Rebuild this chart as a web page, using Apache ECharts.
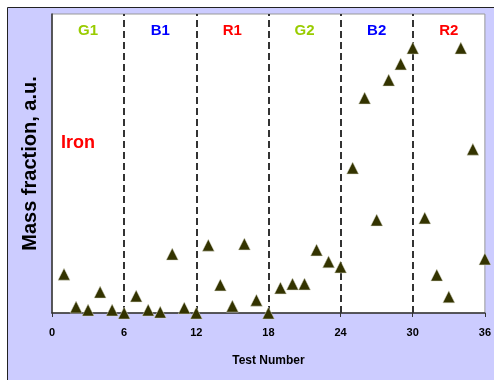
<!DOCTYPE html>
<html><head><meta charset="utf-8">
<script src="https://cdn.jsdelivr.net/npm/echarts@6/dist/echarts.min.js"></script>
<style>html,body{margin:0;padding:0;background:#fff}#c{width:494px;height:380px}</style>
</head><body><div id="c"></div>
<script>
var testNumbers = [1,2,3,4,5,6,7,8,9,10,11,12,13,14,15,16,17,18,19,20,21,22,23,24,25,26,27,28,29,30,31,32,33,34,35,36];
var ironValues = [13.0,2.0,1.0,7.0,1.0,0,5.7,1.0,0.3,19.7,1.7,0,22.7,9.4,2.3,23.1,4.3,0,8.4,9.7,9.7,21.1,17.1,15.4,48.5,71.9,31.1,77.9,83.3,88.6,31.8,12.7,5.4,88.6,54.8,18.1];
var xTicks = [0,6,12,18,24,30,36];
var dividers = [6,12,18,24,30];
var zoneNames = ['G1','B1','R1','G2','B2','R2'];
var zoneCenters = [3,9,15,21,27,33];
var zoneColors = ['#99cc00','#0000ff','#ff0000','#99cc00','#0000ff','#ff0000'];
var zoneLabelY = 94.2;

var chart = echarts.init(document.getElementById('c'));
var font = '"Liberation Sans", Arial, sans-serif';
chart.setOption({
  animation: false,
  backgroundColor: '#ffffff',
  graphic: [
    {type:'rect', z:-100, shape:{x:7.5,y:7.5,width:500,height:380}, style:{fill:'#ccccff', stroke:'#222', lineWidth:1}},
    {type:'text', z:100, left:61, top:134, style:{text:'Iron', fill:'#ff0000', font:'bold 18px ' + font}}
  ],
  grid: {left:52, top:14, right:8, bottom:67, show:true, backgroundColor:'#ffffff', borderColor:'#999', borderWidth:1, containLabel:false},
  xAxis: {
    type:'value', min:0, max:36, interval:6,
    axisLine:{show:true, lineStyle:{color:'#333', width:1.5}},
    axisTick:{show:true, length:4, lineStyle:{color:'#333'}},
    splitLine:{show:false},
    axisLabel:{color:'#000', fontWeight:'bold', fontSize:11, fontFamily:font, margin:14},
    name:'Test Number', nameLocation:'middle', nameGap:42,
    nameTextStyle:{color:'#000', fontWeight:'bold', fontSize:12, fontFamily:font}
  },
  yAxis: {
    type:'value', min:0, max:100,
    axisLine:{show:true, lineStyle:{color:'#333', width:1.5}},
    axisTick:{show:false}, axisLabel:{show:false}, splitLine:{show:false},
    name:'Mass fraction, a.u.', nameLocation:'middle', nameRotate:90, nameGap:12,
    nameTextStyle:{color:'#000', fontWeight:'bold', fontSize:20, fontFamily:font}
  },
  series: [
    {
      type:'scatter', symbol:'none', silent:true, data:[],
      markLine:{silent:true, symbol:'none', label:{show:false},
        lineStyle:{color:'#333', width:2, type:[7,4]},
        data: dividers.map(function(d){return {xAxis:d};})}
    },
    {
      type:'scatter', symbol:'circle', symbolSize:1, silent:true, z:10,
      itemStyle:{color:'rgba(0,0,0,0)', opacity:1},
      data: zoneCenters.map(function(c,i){return {value:[c,zoneLabelY], label:{color:zoneColors[i]}};}),
      label:{show:true, position:'inside', fontWeight:'bold', fontSize:15, fontFamily:font,
        textBorderWidth:0, textBorderColor:'transparent',
        formatter:function(p){return zoneNames[p.dataIndex];}}
    },
    {
      type:'scatter', symbol:'triangle', symbolSize:[12,12], z:5,
      itemStyle:{color:'#333300', borderColor:'#ddddcc', borderWidth:0.5, opacity:1},
      data: testNumbers.map(function(t,i){return [t, ironValues[i]];})
    }
  ]
});
</script></body></html>
